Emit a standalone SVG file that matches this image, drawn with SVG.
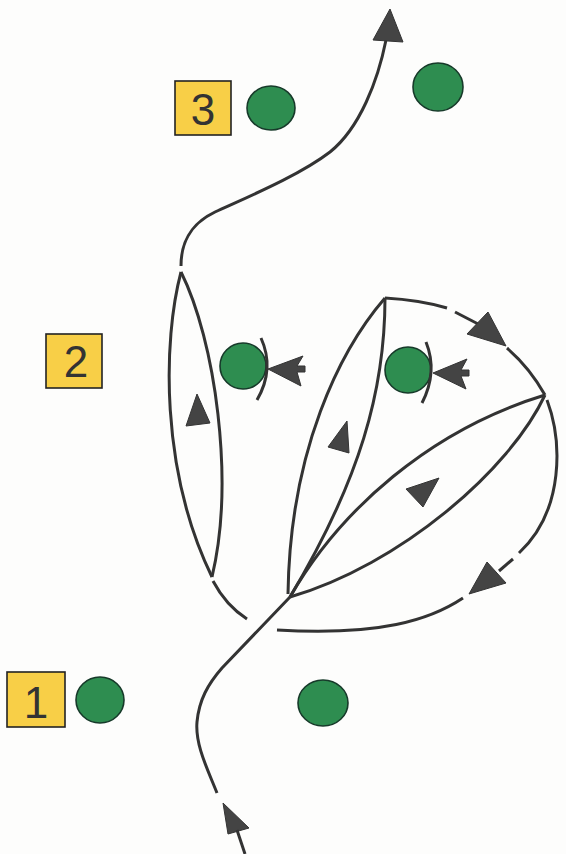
<svg xmlns="http://www.w3.org/2000/svg" width="566" height="854" viewBox="0 0 566 854">
<style>
.bg{fill:#fdfdfc}
.lbl{fill:#f8cf47;stroke:#222;stroke-width:1.6}
.num{font-family:"Liberation Sans",Arial,sans-serif;font-size:44px;fill:#333;text-anchor:middle}
.pl{fill:#2e8d50;stroke:#173a2a;stroke-width:1.6}
.ln{fill:none;stroke:#333;stroke-width:3;stroke-linecap:butt}
.ah{fill:#444;stroke:#333;stroke-width:1;stroke-linejoin:round}
</style>
<rect class="bg" x="0" y="0" width="566" height="854"/>
<g id="label-3"><rect class="lbl" x="175" y="81" width="56" height="54"/><text class="num" x="203" y="125">3</text></g>
<g id="label-2"><rect class="lbl" x="46" y="334" width="56" height="54"/><text class="num" x="76" y="377">2</text></g>
<g id="label-1"><rect class="lbl" x="7" y="672" width="58" height="55"/><text class="num" x="36" y="718">1</text></g>
<g id="player-3a"><ellipse class="pl" cx="271" cy="108" rx="24" ry="22"/></g>
<g id="player-3b"><ellipse class="pl" cx="438" cy="87" rx="25" ry="24"/></g>
<g id="player-2a"><circle class="pl" cx="243" cy="366" r="23"/></g>
<g id="player-2b"><circle class="pl" cx="408" cy="370" r="23"/></g>
<g id="player-1a"><ellipse class="pl" cx="100" cy="700" rx="24" ry="23"/></g>
<g id="player-1b"><ellipse class="pl" cx="323" cy="703" rx="25" ry="23"/></g>
<g id="connectors">
<path class="ln" d="M217,793 C208,770 195,745 197,722 C199,700 208,684 222,668 L290,597"/>
<polygon class="ah" points="223,803 249,828 228,834"/>
<path class="ln" d="M237,830 L245,854"/>
<path class="ln" d="M181,272 C163,340 160,470 212,577"/>
<path class="ln" d="M181,272 C215,340 235,480 212,577"/>
<path class="ln" d="M213,581 C222,598 233,610 247,619"/>
<polygon class="ah" points="197,394 186,426 210,423"/>
<path class="ln" d="M181,266 C181,245 188,225 215,212 C250,196 300,175 330,152 C360,128 378,80 386,40"/>
<polygon class="ah" points="390,9 373,40 403,42"/>
<path class="ln" d="M385,298 C340,350 290,450 288,594"/>
<path class="ln" d="M385,298 C385,390 360,480 290,597"/>
<polygon class="ah" points="347,421 328,447 349,453"/>
<path class="ln" d="M290,597 C340,510 430,430 545,395"/>
<path class="ln" d="M290,597 C400,565 510,470 545,395"/>
<polygon class="ah" points="406,489 439,478 423,507"/>
<path class="ln" d="M385,298 Q420,300 447,308"/>
<path class="ln" d="M455,312 L482,326"/>
<polygon class="ah" points="488,312 506,346 467,334"/>
<path class="ln" d="M507,348 Q530,368 545,395"/>
<path class="ln" d="M547,400 C562,440 565,510 519,553"/>
<path class="ln" d="M513,559 L499,571"/>
<polygon class="ah" points="487,562 506,583 469,594"/>
<path class="ln" d="M463,598 C430,620 380,636 277,630"/>
<path class="ln" d="M261,338 Q275,369 257,400"/>
<polygon class="ah" points="268,369 303,356 297,366 305,366 305,372 297,372 301,386"/>
<path class="ln" d="M426,342 Q438,372 422,403"/>
<polygon class="ah" points="433,373 467,359 461,370 469,370 469,376 461,376 466,389"/>
</g>
</svg>
